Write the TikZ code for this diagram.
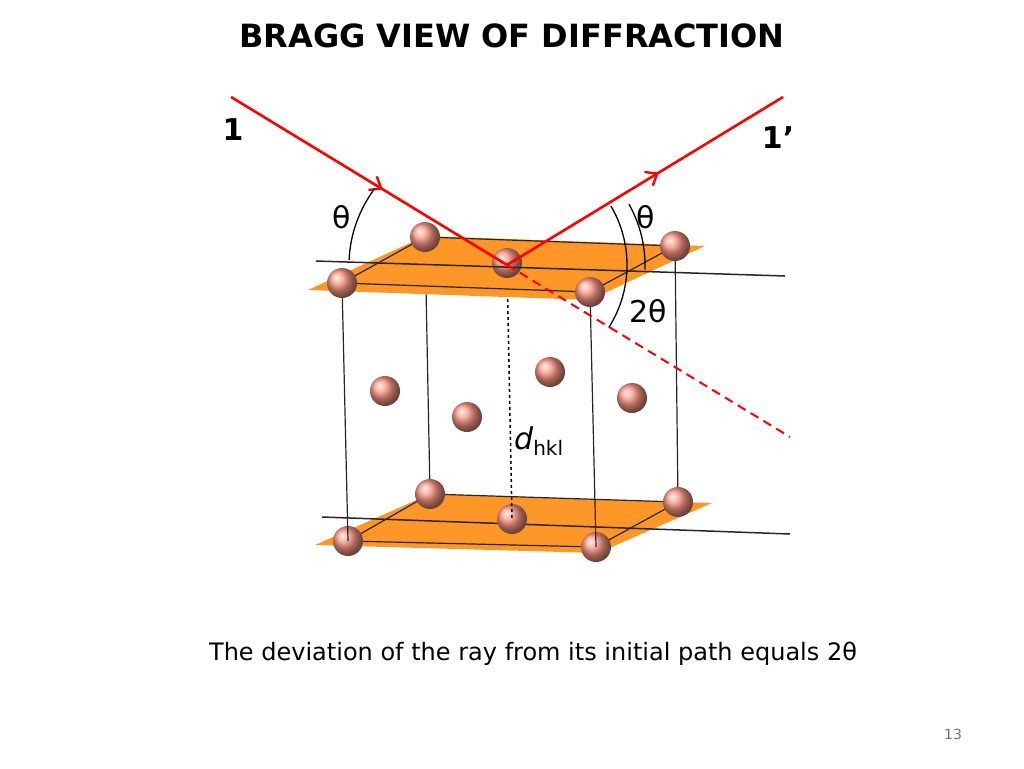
\documentclass[tikz,border=0pt]{standalone}
\usepackage{fontspec}
\setmainfont{DejaVu Sans}
\usetikzlibrary{decorations.markings,arrows.meta}
\begin{document}
\begin{tikzpicture}[x=1pt,y=-1pt,
  plane/.style={fill={rgb,255:red,255;green,150;blue,40},draw=none},
  thin/.style={draw=black!85,line width=1.2pt},
  atom/.style={circle,minimum size=30pt,inner sep=0pt,shading=ball,ball color={rgb,255:red,250;green,150;blue,130}},
  ray/.style={red,line width=2.6pt,postaction={decorate},decoration={markings,mark=at position 0.55 with {\arrow{Straight Barb[length=10pt,width=16pt,line width=2.4pt]}}}},
  lbl/.style={font=\fontsize{30}{34}\selectfont}]
\useasboundingbox (0,0) rectangle (1024,768);
\node[font=\bfseries\fontsize{32}{34}\selectfont] (title) at (512,36) {BRAGG VIEW OF DIFFRACTION};
\coordinate (t1) at (425,237); \coordinate (t2) at (675,246); \coordinate (t3) at (342,283); \coordinate (t4) at (590,292); \coordinate (tc) at (507,263);
\coordinate (b1) at (430,494); \coordinate (b2) at (678,502); \coordinate (b3) at (348,541); \coordinate (b4) at (596,547); \coordinate (bc) at (512,519);
\draw[thin] (t1)--(b1); \draw[thin] (t2)--(b2);
% bottom plane
\fill[plane] (315,545)--(598,553)--(712,503)--(430,494)--cycle;
\draw[thin] (b1)--(b2)--(b4)--(b3)--cycle;
\draw[thin,line width=1.5pt] (322,517)--(790,534);
\node[atom] (B1) at (b1) {}; \node[atom] (B2) at (b2) {}; \node[atom] (Bc) at (bc) {};
\node[atom] (B3) at (b3) {}; \node[atom] (B4) at (b4) {};
\draw[thin] (t3)--(b3); \draw[thin] (t4)--(b4);
\node[atom] (m1) at (385,391) {}; \node[atom] (m2) at (467,417) {};
\node[atom] (m3) at (550,372) {}; \node[atom] (m4) at (632,398) {};
\draw[dashed,line width=1.5pt] (tc)--(bc);
\node[font=\fontsize{30}{32}\selectfont,inner sep=1pt,anchor=west] (d) at (513,441) {\itshape d\normalfont\raisebox{-6pt}{\fontsize{20}{22}\selectfont hkl}};
% top plane
\fill[plane] (308,290)--(590,300)--(705,246)--(425,236)--cycle;
\draw[thin] (t1)--(t2)--(t4)--(t3)--cycle;
\node[atom] (T1) at (t1) {}; \node[atom] (T2) at (t2) {}; \node[atom] (Tc) at (tc) {};
\draw[thin,line width=1.5pt] (316,261)--(785,276);
\node[atom] (T3) at (t3) {}; \node[atom] (T4) at (t4) {};
% rays
\coordinate (s) at (231,97); \coordinate (e) at (783,97); \coordinate (o) at (507,265); \coordinate (dd) at (790,437);
\draw[red,line width=2pt,dash pattern=on 9pt off 6pt] (o)--(dd);
\draw[ray] (s)--(o);
\draw[ray] (o)--(e);
% arcs
\draw[line width=1.3pt] ([shift={(o)}]213:158 and 140) arc[start angle=213,end angle=182,x radius=158,y radius=140];
\draw[line width=1.3pt] ([shift={(o)}]-30:120 and 118) arc[start angle=-30,end angle=32,x radius=120,y radius=118];
\draw[line width=1.3pt] ([shift={(o)}]-28:138 and 130) arc[start angle=-28,end angle=2,x radius=138,y radius=130];
% labels
\node[font=\bfseries\fontsize{30}{34}\selectfont] (l1) at (233,130) {1};
\node[font=\bfseries\fontsize{30}{34}\selectfont] (l2) at (778,138) {1’};
\node[lbl] (th1) at (342,217) {θ};
\node[lbl] (th2) at (646,217) {θ};
\node[lbl] (th3) at (648,311) {2θ};
\node[font=\fontsize{24}{28}\selectfont] (cap) at (533,654) {The deviation of the ray from its initial path equals 2θ};
\node[font=\fontsize{14}{16}\selectfont,text=black!55] (pg) at (953,734) {13};
\end{tikzpicture}
\end{document}
